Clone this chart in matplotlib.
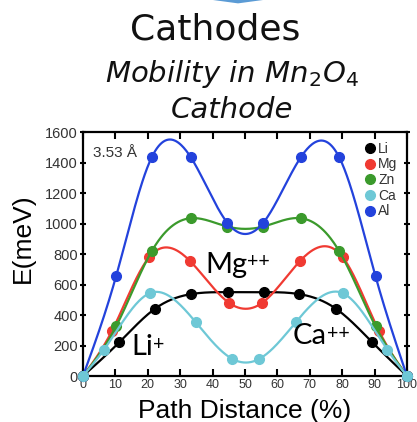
import numpy as np
import matplotlib
matplotlib.use("Agg")
import matplotlib.pyplot as plt
from matplotlib.patches import Polygon

# ---- data ----
li_x = [0, 11.2, 22.2, 33.3, 44.9, 56.0, 66.8, 78.1, 89.3, 100]
li_y = [0, 221, 441, 537, 550, 550, 537, 441, 221, 0]
mg_x = [0, 8.9, 20.5, 33.0, 45.2, 55.2, 67.0, 80.1, 91.4, 100]
mg_y = [0, 294, 781, 755, 478, 478, 755, 781, 294, 0]
zn_x = [0, 10.2, 21.2, 33.2, 44.6, 55.6, 67.2, 79.1, 90.3, 100]
zn_y = [0, 325, 818, 1035, 980, 980, 1035, 818, 325, 0]
ca_x = [0, 6.5, 20.7, 34.8, 46.1, 54.4, 65.7, 80.1, 93.9, 100]
ca_y = [0, 173, 544, 353, 112, 112, 353, 544, 173, 0]
al_x = [0, 10.2, 21.2, 33.3, 44.6, 55.6, 67.2, 79.1, 90.3, 100]
al_y = [0, 653, 1434, 1434, 1004, 1004, 1434, 1434, 653, 0]

labels = ["Li", "Mg", "Zn", "Ca", "Al"]
colors = ["#000000", "#f03a32", "#3b9a2c", "#6ec8d6", "#2342dc"]
xticks = [0, 10, 20, 30, 40, 50, 60, 70, 80, 90, 100]
yticks = [0, 200, 400, 600, 800, 1000, 1200, 1400, 1600]


def natural_spline(x, y, n=400):
    x = np.asarray(x, float); y = np.asarray(y, float)
    k = len(x)
    h = np.diff(x)
    A = np.zeros((k, k)); b = np.zeros(k)
    A[0, 0] = 1; A[-1, -1] = 1
    for i in range(1, k - 1):
        A[i, i - 1] = h[i - 1]
        A[i, i] = 2 * (h[i - 1] + h[i])
        A[i, i + 1] = h[i]
        b[i] = 3 * ((y[i + 1] - y[i]) / h[i] - (y[i] - y[i - 1]) / h[i - 1])
    c = np.linalg.solve(A, b)
    bb = np.zeros(k - 1); d = np.zeros(k - 1)
    for i in range(k - 1):
        bb[i] = (y[i + 1] - y[i]) / h[i] - h[i] * (2 * c[i] + c[i + 1]) / 3
        d[i] = (c[i + 1] - c[i]) / (3 * h[i])
    xs = np.linspace(x[0], x[-1], n)
    idx = np.clip(np.searchsorted(x, xs) - 1, 0, k - 2)
    dx = xs - x[idx]
    ys = y[idx] + bb[idx] * dx + c[idx] * dx ** 2 + d[idx] * dx ** 3
    return xs, ys


fig = plt.figure(figsize=(4.17, 4.22), dpi=100)

# titles
fig.text(215 / 417, 0.907, "Cathodes", ha="center", va="baseline", fontsize=26,
         family="DejaVu Sans", color="#111111")
fig.text(232 / 417, 0.806, r"Mobility in Mn$_\mathit{2}$O$_\mathit{4}$", ha="center",
         va="baseline", fontsize=21, family="DejaVu Sans", fontstyle="italic",
         color="#111111")
fig.text(232 / 417, 0.720, "Cathode", ha="center", va="baseline",
         fontsize=21, family="DejaVu Sans", fontstyle="italic", color="#111111")
# arrow tip at top
fig.patches.append(Polygon([[213 / 417, 1.0], [263 / 417, 1.0], [238 / 417, 0.992]],
                           closed=True, transform=fig.transFigure,
                           facecolor="#5b9bd5", edgecolor="none"))

ax = fig.add_axes([0.199, 0.109, 0.777, 0.578])
series = [(li_x, li_y), (mg_x, mg_y), (zn_x, zn_y), (ca_x, ca_y), (al_x, al_y)]
zorders = [2, 3, 4, 6, 5]
for (xx, yy), lab, col, z in zip(series, labels, colors, zorders):
    xs, ys = natural_spline(xx, yy)
    ax.plot(xs, ys, color=col, lw=1.6, zorder=z, clip_on=False)
    ax.plot(xx, yy, "o", color=col, ms=7, zorder=z + 0.5, label=lab,
            clip_on=False)

ax.set_xlim(0, 100)
ax.set_ylim(0, 1600)
ax.set_xticks(xticks)
ax.set_yticks(yticks)
for s in ax.spines.values():
    s.set_linewidth(1.6)
ax.tick_params(axis="both", which="major", width=1.5, length=5,
               colors="black", labelcolor="#333333")
ax.tick_params(axis="x", direction="in", top=True, labelsize=9, pad=2)
ax.tick_params(axis="y", direction="inout", right=True, labelsize=10.5, pad=1)
for t in ax.get_xticklabels() + ax.get_yticklabels():
    t.set_family("Liberation Sans")

ax.set_xlabel("Path Distance (%)", fontsize=19, family="Liberation Sans",
              labelpad=6)
ax.set_ylabel("E(meV)", fontsize=19, family="Liberation Sans")
ax.yaxis.set_label_coords(-0.15, 0.564)

ax.text(3, 1436, "3.53 Å", fontsize=11, family="Liberation Sans",
        color="#333333", va="baseline")


def ion_label(x, y, base, sup):
    t = ax.text(x, y, base, fontsize=21, family="Lato", va="baseline", zorder=10)
    ax.annotate(sup, xy=(1.0, 0.93), xycoords=t, ha="left", va="top",
                fontsize=14, family="Lato", zorder=10)


ion_label(37.7, 678, "Mg", "++")
ion_label(64.8, 210, "Ca", "++")
ion_label(14.8, 138, "Li", "+")

leg = ax.legend(loc="upper right", frameon=False,
                handlelength=0.6, handletextpad=0.3, labelspacing=0.12,
                borderaxespad=0.3, prop={"family": "Liberation Sans", "size": 10})
for t in leg.get_texts():
    t.set_color("#333333")

fig.savefig("out.png", dpi=100)
